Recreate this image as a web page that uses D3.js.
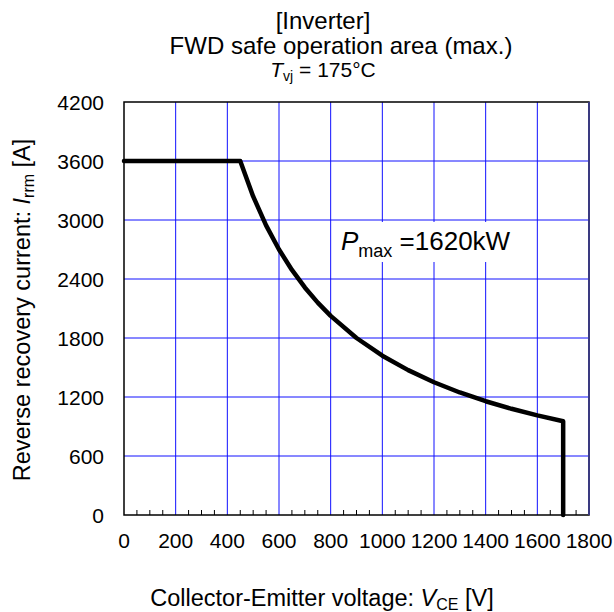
<!DOCTYPE html>
<meta charset="utf-8">
<style>
body { margin: 0; background: #fff; }
text { font-family: "Liberation Sans", Arial, sans-serif; fill: #000; }
.grid line { stroke: #1010ff; stroke-width: 1; }
</style>
<svg width="614" height="612"></svg>
<script src="https://cdn.jsdelivr.net/npm/d3@7/dist/d3.min.js"></script>
<script>
// readings (V, A)
var vce = [0, 450, 500, 550, 600, 650, 700, 750, 800, 900, 1000, 1100, 1200, 1300, 1400, 1500, 1600, 1700, 1700];
var irrm = [3600, 3600, 3240, 2945, 2700, 2492, 2314, 2160, 2025, 1800, 1620, 1473, 1350, 1246, 1157, 1080, 1013, 953, 0];
var xTicks = [0, 200, 400, 600, 800, 1000, 1200, 1400, 1600, 1800];
var yTicks = [0, 600, 1200, 1800, 2400, 3000, 3600, 4200];

var svg = d3.select("svg"),
    pL = 124, pR = 589, pT = 102, pB = 515;

var x = d3.scaleLinear().domain([0, 1800]).range([pL, pR]);
var y = d3.scaleLinear().domain([0, 4200]).range([pB, pT]);

// grid
var grid = svg.append("g").attr("class", "grid");
grid.selectAll("line.v")
    .data(xTicks.slice(1, -1))
  .enter().append("line")
    .attr("x1", function(d){return x(d);}).attr("x2", function(d){return x(d);})
    .attr("y1", pT).attr("y2", pB);
grid.selectAll("line.h")
    .data(yTicks.slice(1, -1))
  .enter().append("line")
    .attr("x1", pL).attr("x2", pR)
    .attr("y1", function(d){return y(d);}).attr("y2", function(d){return y(d);});

// minor ticks on x axis
svg.append("g").selectAll("line")
    .data(d3.range(0, 1801, 50).filter(function(d){return d % 200 != 0;}))
  .enter().append("line")
    .attr("x1", function(d){return x(d);}).attr("x2", function(d){return x(d);})
    .attr("y1", pB).attr("y2", pB - 5)
    .attr("stroke", "#000");

// frame
svg.append("rect")
    .attr("x", pL).attr("y", pT)
    .attr("width", pR - pL).attr("height", pB - pT)
    .attr("fill", "none").attr("stroke", "#000").attr("stroke-width", 1.5);
svg.append("line")
    .attr("x1", pR).attr("x2", pR).attr("y1", pT).attr("y2", pB)
    .attr("stroke", "#3a3a80").attr("stroke-width", 2);

// tick labels
svg.append("g").selectAll("text")
    .data(xTicks)
  .enter().append("text")
    .attr("x", function(d){return x(d);}).attr("y", 548)
    .attr("text-anchor", "middle").attr("font-size", 21)
    .text(function(d){return d;});
svg.append("g").selectAll("text")
    .data(yTicks)
  .enter().append("text")
    .attr("x", 104).attr("y", function(d){return y(d) + 7.5;})
    .attr("text-anchor", "end").attr("font-size", 21)
    .text(function(d){return d;});

// Pmax label box (hides grid behind text)
svg.append("rect")
    .attr("x", 336).attr("y", 222).attr("width", 190).attr("height", 40)
    .attr("fill", "#fff");

// curve
var pts = vce.map(function(v, i){return [v, irrm[i]];});
svg.append("path")
    .datum(pts)
    .attr("fill", "none").attr("stroke", "#000").attr("stroke-width", 4.5)
    .attr("stroke-linejoin", "round").attr("stroke-linecap", "round")
    .attr("d", d3.line().x(function(d){return x(d[0]);}).y(function(d){return y(d[1]);}));

// titles
svg.append("text").attr("x", 323).attr("y", 29).attr("text-anchor", "middle").attr("font-size", 24).text("[Inverter]");
svg.append("text").attr("x", 341).attr("y", 54).attr("text-anchor", "middle").attr("font-size", 24).text("FWD safe operation area (max.)");
var t = svg.append("text").attr("x", 323).attr("y", 77).attr("text-anchor", "middle").attr("font-size", 21);
t.append("tspan").attr("font-style", "italic").text("T");
t.append("tspan").attr("font-size", 14).attr("dy", 4).text("vj");
t.append("tspan").attr("dy", -4).text(" = 175°C");

// Pmax label
var p = svg.append("text").attr("x", 341).attr("y", 250).attr("font-size", 26);
p.append("tspan").attr("font-style", "italic").text("P");
p.append("tspan").attr("font-size", 18).attr("dy", 7).text("max");
p.append("tspan").attr("dy", -7).text(" =1620kW");

// axis titles
var xl = svg.append("text").attr("x", 322).attr("y", 606).attr("text-anchor", "middle").attr("font-size", 23.5);
xl.append("tspan").text("Collector-Emitter voltage:  ");
xl.append("tspan").attr("font-style", "italic").text("V");
xl.append("tspan").attr("font-size", 16).attr("dy", 4).text("CE");
xl.append("tspan").attr("dy", -4).text(" [V]");

var yl = svg.append("text").attr("transform", "translate(30,310) rotate(-90)").attr("text-anchor", "middle").attr("font-size", 23.5);
yl.append("tspan").text("Reverse recovery current:  ");
yl.append("tspan").attr("font-style", "italic").text("I");
yl.append("tspan").attr("font-size", 16).attr("dy", 4).text("rrm");
yl.append("tspan").attr("dy", -4).text("  [A]");
</script>
